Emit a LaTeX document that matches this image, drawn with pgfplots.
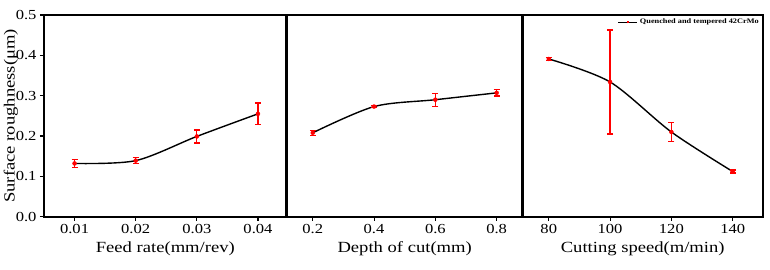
\documentclass[border=0pt]{standalone}
\usepackage{pgfplots}
\pgfplotsset{compat=1.18}
\usepackage{fontspec}
\setmainfont{Liberation Serif}[FakeStretch=1.2]
\begin{document}
\begin{tikzpicture}
\pgfplotsset{
  panel/.style={
    scale only axis, height=201.7pt, ymin=0, ymax=0.5,
    axis line style={line width=1.7pt},
    tick align=outside, xtick pos=bottom, ytick pos=left,
    major tick length=4pt, tick style={black, line width=1.1pt},
    ticklabel style={font=\fontsize{13.8}{16}\selectfont},
    label style={font=\fontsize{15.5}{18}\selectfont},
    /pgf/number format/assume math mode=true,
    scaled ticks=false,
    clip=false,
  },
  curve/.style={black, line width=1.4pt, smooth, mark=none},
  ebar/.style={only marks, mark=none, red, forget plot,
    error bars/.cd, y dir=both, y explicit,
    error bar style={red, draw=red, line width=1.3pt},
    error mark options={rotate=90, red, draw=red, mark size=3pt, line width=1.3pt}},
}
\path[use as bounding box] (-44pt,-53.3pt) rectangle (726pt,216.7pt);
% Panel 1
\begin{axis}[panel, at={(0pt,0pt)}, width=242.7pt,
  xmin=0.005, xmax=0.0447,
  xtick={0.01,0.02,0.03,0.04}, xticklabels={0.01,0.02,0.03,0.04},
  ytick={0,0.1,0.2,0.3,0.4,0.5}, yticklabels={0.0,0.1,0.2,0.3,0.4,0.5},
  xlabel={Feed rate(mm/rev)}, ylabel={Surface roughness(μm)},
  xlabel style={yshift=-1pt}, ylabel style={yshift=-9pt}]
\addplot[curve] table {
x y
0.01 0.132
0.02 0.139
0.03 0.199
0.04 0.255
};
\addplot[ebar] table[x=x, y=y, y error=e] {
x y e
0.01 0.132 0.010
0.02 0.139 0.007
0.03 0.199 0.016
0.04 0.255 0.027
};
\end{axis}
% Panel 3
\begin{axis}[panel, at={(478.7pt,0pt)}, width=240pt,
  xmin=71.5, xmax=149.8,
  xtick={80,100,120,140},
  ytick=\empty,
  xlabel={Cutting speed(m/min)}, xlabel style={yshift=-1pt},
  legend style={at={(1,1)}, anchor=north east, draw=none, fill=none,
    font=\fontsize{6.9}{8}\selectfont\bfseries, inner sep=1pt, outer sep=1pt},
  legend cell align=left,
  legend image code/.code={
    \draw[black, line width=1pt] (0pt,0pt) -- (19pt,0pt);
    \draw[red, line width=1.2pt] (9.5pt,-1.3pt) -- (9.5pt,1.3pt);}]
\addplot[curve] table {
x y
80 0.391
100 0.334
120 0.210
140 0.112
};
\addlegendentry{Quenched and tempered 42CrMo}
\addplot[ebar] table[x=x, y=y, y error=e] {
x y e
80 0.391 0.004
100 0.334 0.129
120 0.210 0.023
140 0.112 0.004
};
\end{axis}
% Panel 2 (drawn last so its thick side spines act as separators)
\begin{axis}[panel, at={(242.7pt,0pt)}, width=236pt,
  xmin=0.115, xmax=0.885,
  xtick={0.2,0.4,0.6,0.8}, xticklabels={0.2,0.4,0.6,0.8},
  ytick=\empty,
  separate axis lines,
  x axis line style={line width=1.7pt},
  y axis line style={line width=2.6pt},
  xlabel={Depth of cut(mm)}, xlabel style={yshift=-1pt}]
\addplot[curve] table {
x y
0.2 0.208
0.4 0.273
0.6 0.290
0.8 0.307
};
\addplot[ebar] table[x=x, y=y, y error=e] {
x y e
0.2 0.208 0.006
0.4 0.273 0.002
0.6 0.290 0.016
0.8 0.307 0.008
};
\end{axis}
\end{tikzpicture}
\end{document}
